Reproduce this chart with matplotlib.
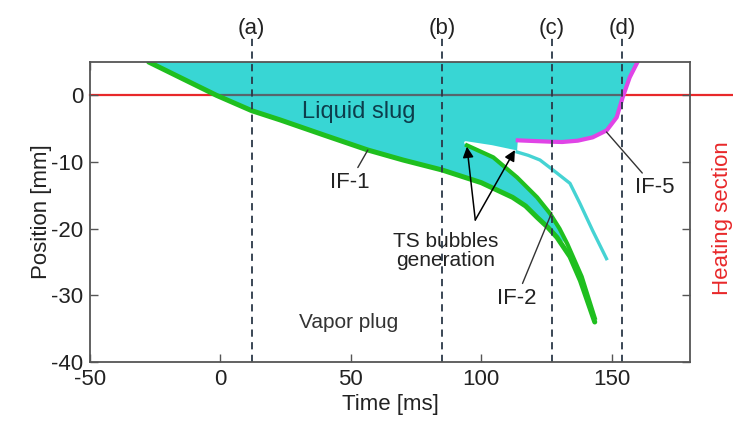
import numpy as np
import matplotlib
matplotlib.use("Agg")
import matplotlib.pyplot as plt

plt.rcParams['font.family'] = ['Liberation Sans', 'DejaVu Sans']
plt.rcParams['axes.unicode_minus'] = False

# interface IF-1 (rear meniscus of the liquid slug)
if1_t = [-27.5, -14, -1.5, 12, 23, 40, 56.5, 70, 85, 100, 112, 117, 121.4, 125.5, 129, 134, 138, 143.5]
if1_y = [5, 2.4, 0, -2.3, -3.7, -6.0, -8.2, -9.7, -11.2, -13.1, -15.3, -16.6, -18.3, -19.8, -21.3, -24.2, -27.8, -34]

# interface IF-2 (formed by the TS bubbles)
if2_t = [94.5, 104.6, 113.7, 121.4, 126.3, 130, 133, 138.5, 143.5]
if2_y = [-7.5, -9.3, -12.3, -15.3, -17.7, -20, -22.3, -27.2, -33.4]

# upper edge of the bubble trace
white_t = [94, 104, 113.7]
white_y = [-7.1, -7.7, -8.5]
trace_t = [113.7, 118, 122.5, 127.5, 134, 137.8, 142.7, 148]
trace_y = [-8.5, -9.0, -9.7, -11.2, -13.2, -16.2, -20.3, -24.5]

# interface IF-5 (front meniscus)
if5_t = [114, 120, 126.3, 131, 137, 142.7, 148.1, 151.9, 154.2, 156.9, 159.9]
if5_y = [-6.75, -6.85, -6.95, -7.0, -6.8, -6.3, -5.25, -3.3, -0.3, 2.7, 5]

event_t = [12, 85, 127, 154]
event_labels = ['(a)', '(b)', '(c)', '(d)']

heater_y = 0

cyan = '#38d6d4'
green = '#1fbf1f'
magenta = '#e044e6'
red = '#e8282a'
dash_col = '#2b3848'
axis_col = '#555555'
txt = '#222222'
fs = 16

fig = plt.figure(figsize=(7.33, 4.23), dpi=100)
ax = fig.add_axes([0.1228, 0.1442, 0.8185, 0.7092])
ax.set_xlim(-50, 180)
ax.set_ylim(-40, 5)

# heating section boundary runs past the right spine
ax.plot([0, 1.08], [heater_y, heater_y], transform=ax.get_yaxis_transform(),
        color=red, lw=1.6, clip_on=False, zorder=1)

# liquid slug region
t1 = np.array(if1_t)
y1 = np.array(if1_y)
t2 = np.array(if2_t)
y2 = np.array(if2_y)
keep1 = t1 <= 133
keep2 = t2 <= 133
poly_t = np.concatenate([t1[keep1], t2[keep2][::-1], white_t, if5_t])
poly_y = np.concatenate([y1[keep1], y2[keep2][::-1], white_y, if5_y])
slug = ax.fill(poly_t, poly_y, color=cyan, lw=0, zorder=2)[0]

zero_line = ax.axhline(heater_y, color='#56656c', lw=1.6, zorder=2.5)
zero_line.set_clip_path(slug)

ax.plot(white_t, white_y, color='white', lw=2.2, zorder=3, solid_capstyle='round')
ax.plot(trace_t, trace_y, color='#45d3d3', lw=2.4, zorder=3)
ax.plot(if2_t, if2_y, color=green, lw=3.0, zorder=4)
ax.plot(if1_t, if1_y, color=green, lw=3.6, zorder=4, solid_capstyle='round')
ax.plot(if5_t, if5_y, color=magenta, lw=3.0, zorder=4)

for t, lab in zip(event_t, event_labels):
    ax.axvline(t, ymin=0, ymax=1.08, color=dash_col, lw=1.3,
               dashes=(4, 3), clip_on=False, zorder=5)
    ax.text(t, 1.112, lab, transform=ax.get_xaxis_transform(),
            ha='center', va='center', fontsize=fs, color=txt)

# region and interface labels
ax.text(53, -2.5, 'Liquid slug', ha='center', va='center', fontsize=17,
        color='#0d3d4c', zorder=6)
ax.text(49, -34, 'Vapor plug', ha='center', va='center', fontsize=15,
        color='#333333')

line_kw = dict(arrowstyle='-', color='#333333', lw=1.0, shrinkA=1, shrinkB=0)
ax.annotate('IF-1', xy=(56.5, -8.2), xytext=(49.5, -13.0), fontsize=fs,
            ha='center', va='center', color=txt, arrowprops=line_kw, zorder=6)
ax.annotate('IF-2', xy=(127, -17.6), xytext=(113.5, -30.4), fontsize=fs,
            ha='center', va='center', color=txt, arrowprops=line_kw, zorder=6)
ax.annotate('IF-5', xy=(148, -5.5), xytext=(166.5, -13.8), fontsize=fs,
            ha='center', va='center', color=txt, arrowprops=line_kw, zorder=6)

ax.text(86.5, -23.3, 'TS bubbles\ngeneration', ha='center', va='center',
        fontsize=15, color=txt, linespacing=1.0)
arrow_kw = dict(arrowstyle='-|>', color='black', lw=1.1,
                mutation_scale=16, shrinkA=0, shrinkB=0)
ax.annotate('', xy=(if2_t[0], if2_y[0] - 0.2), xytext=(97.7, -18.7),
            arrowprops=arrow_kw, zorder=7)
ax.annotate('', xy=(trace_t[0] - 0.8, trace_y[0] + 0.3), xytext=(97.7, -18.7),
            arrowprops=arrow_kw, zorder=7)

fig.text(0.986, 0.485, 'Heating section', rotation=90, ha='center', va='center',
         fontsize=fs, color=red)

ax.set_xticks([-50, 0, 50, 100, 150])
ax.set_yticks([-40, -30, -20, -10, 0])
ax.tick_params(direction='in', length=6, width=1.0, top=True, right=True,
               labelsize=fs, pad=5, colors=axis_col, labelcolor=txt)
for s in ax.spines.values():
    s.set_color(axis_col)
    s.set_linewidth(1.3)
    s.set_zorder(5)

ax.set_xlabel('Time [ms]', fontsize=fs, color=txt, labelpad=3)
ax.set_ylabel('Position [mm]', fontsize=fs, color=txt, labelpad=-1)

fig.savefig('out.png', dpi=100)
